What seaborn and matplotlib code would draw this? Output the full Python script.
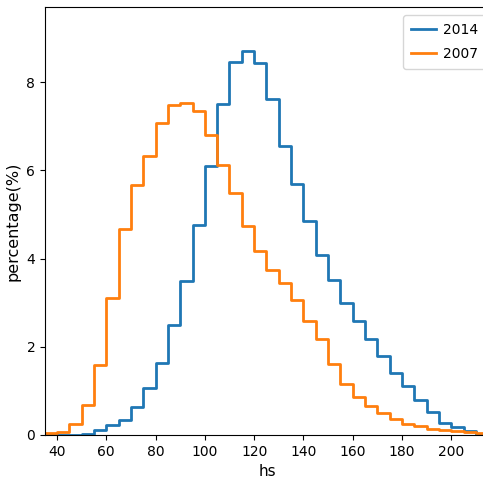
import matplotlib
matplotlib.use("Agg")
import matplotlib.pyplot as plt
import seaborn as sns
import numpy as np
import pandas as pd

# bin left edges (width 5)
bin_edges = list(range(35, 220, 5))  # 35 ... 215

pct_2014 = [0.00, 0.00, 0.00, 0.03, 0.11, 0.22, 0.34, 0.63, 1.06, 1.63,
            2.50, 3.50, 4.76, 6.10, 7.51, 8.45, 8.71, 8.43, 7.61, 6.54,
            5.69, 4.84, 4.09, 3.51, 2.99, 2.59, 2.17, 1.79, 1.41, 1.10,
            0.79, 0.51, 0.28, 0.17, 0.08, 0.03]
pct_2007 = [0.04, 0.07, 0.26, 0.68, 1.59, 3.11, 4.68, 5.67, 6.33, 7.08,
            7.47, 7.52, 7.35, 6.79, 6.11, 5.48, 4.74, 4.16, 3.73, 3.45,
            3.05, 2.59, 2.18, 1.60, 1.16, 0.85, 0.66, 0.49, 0.37, 0.25,
            0.20, 0.14, 0.11, 0.08, 0.06, 0.04]
series_labels = ["2014", "2007"]

plt.rcParams["font.family"] = ["DejaVu Sans"]

W, H = 483, 482
fig = plt.figure(figsize=(W / 100, H / 100), dpi=100)
ax = fig.add_axes([45 / W, 47 / H, 445 / W, 428 / H])

colors = ["#1f77b4", "#ff7f0e"]
for vals, lab, c in zip([pct_2014, pct_2007], series_labels, colors):
    df = pd.DataFrame({"hs": bin_edges, "pct": vals + [vals[-1]]})
    sns.lineplot(data=df, x="hs", y="pct", drawstyle="steps-post", color=c,
                 linewidth=2, label=lab, ax=ax)

ax.set_xlim(35.15, 215.7)
ax.set_ylim(0, 9.70)
ax.set_xticks([40, 60, 80, 100, 120, 140, 160, 180, 200])
ax.set_yticks([0, 2, 4, 6, 8])
ax.set_xlabel("hs", fontsize=11)
ax.set_ylabel("percentage(%)", fontsize=11.5)
ax.tick_params(labelsize=10)
ax.legend(loc="upper left", bbox_to_anchor=(403 / W, 1 - 15 / H),
          bbox_transform=fig.transFigure, borderaxespad=0,
          fontsize=10, handlelength=1.8, handletextpad=0.5,
          labelspacing=0.75, borderpad=0.55)

fig.savefig("out.png", dpi=100)
